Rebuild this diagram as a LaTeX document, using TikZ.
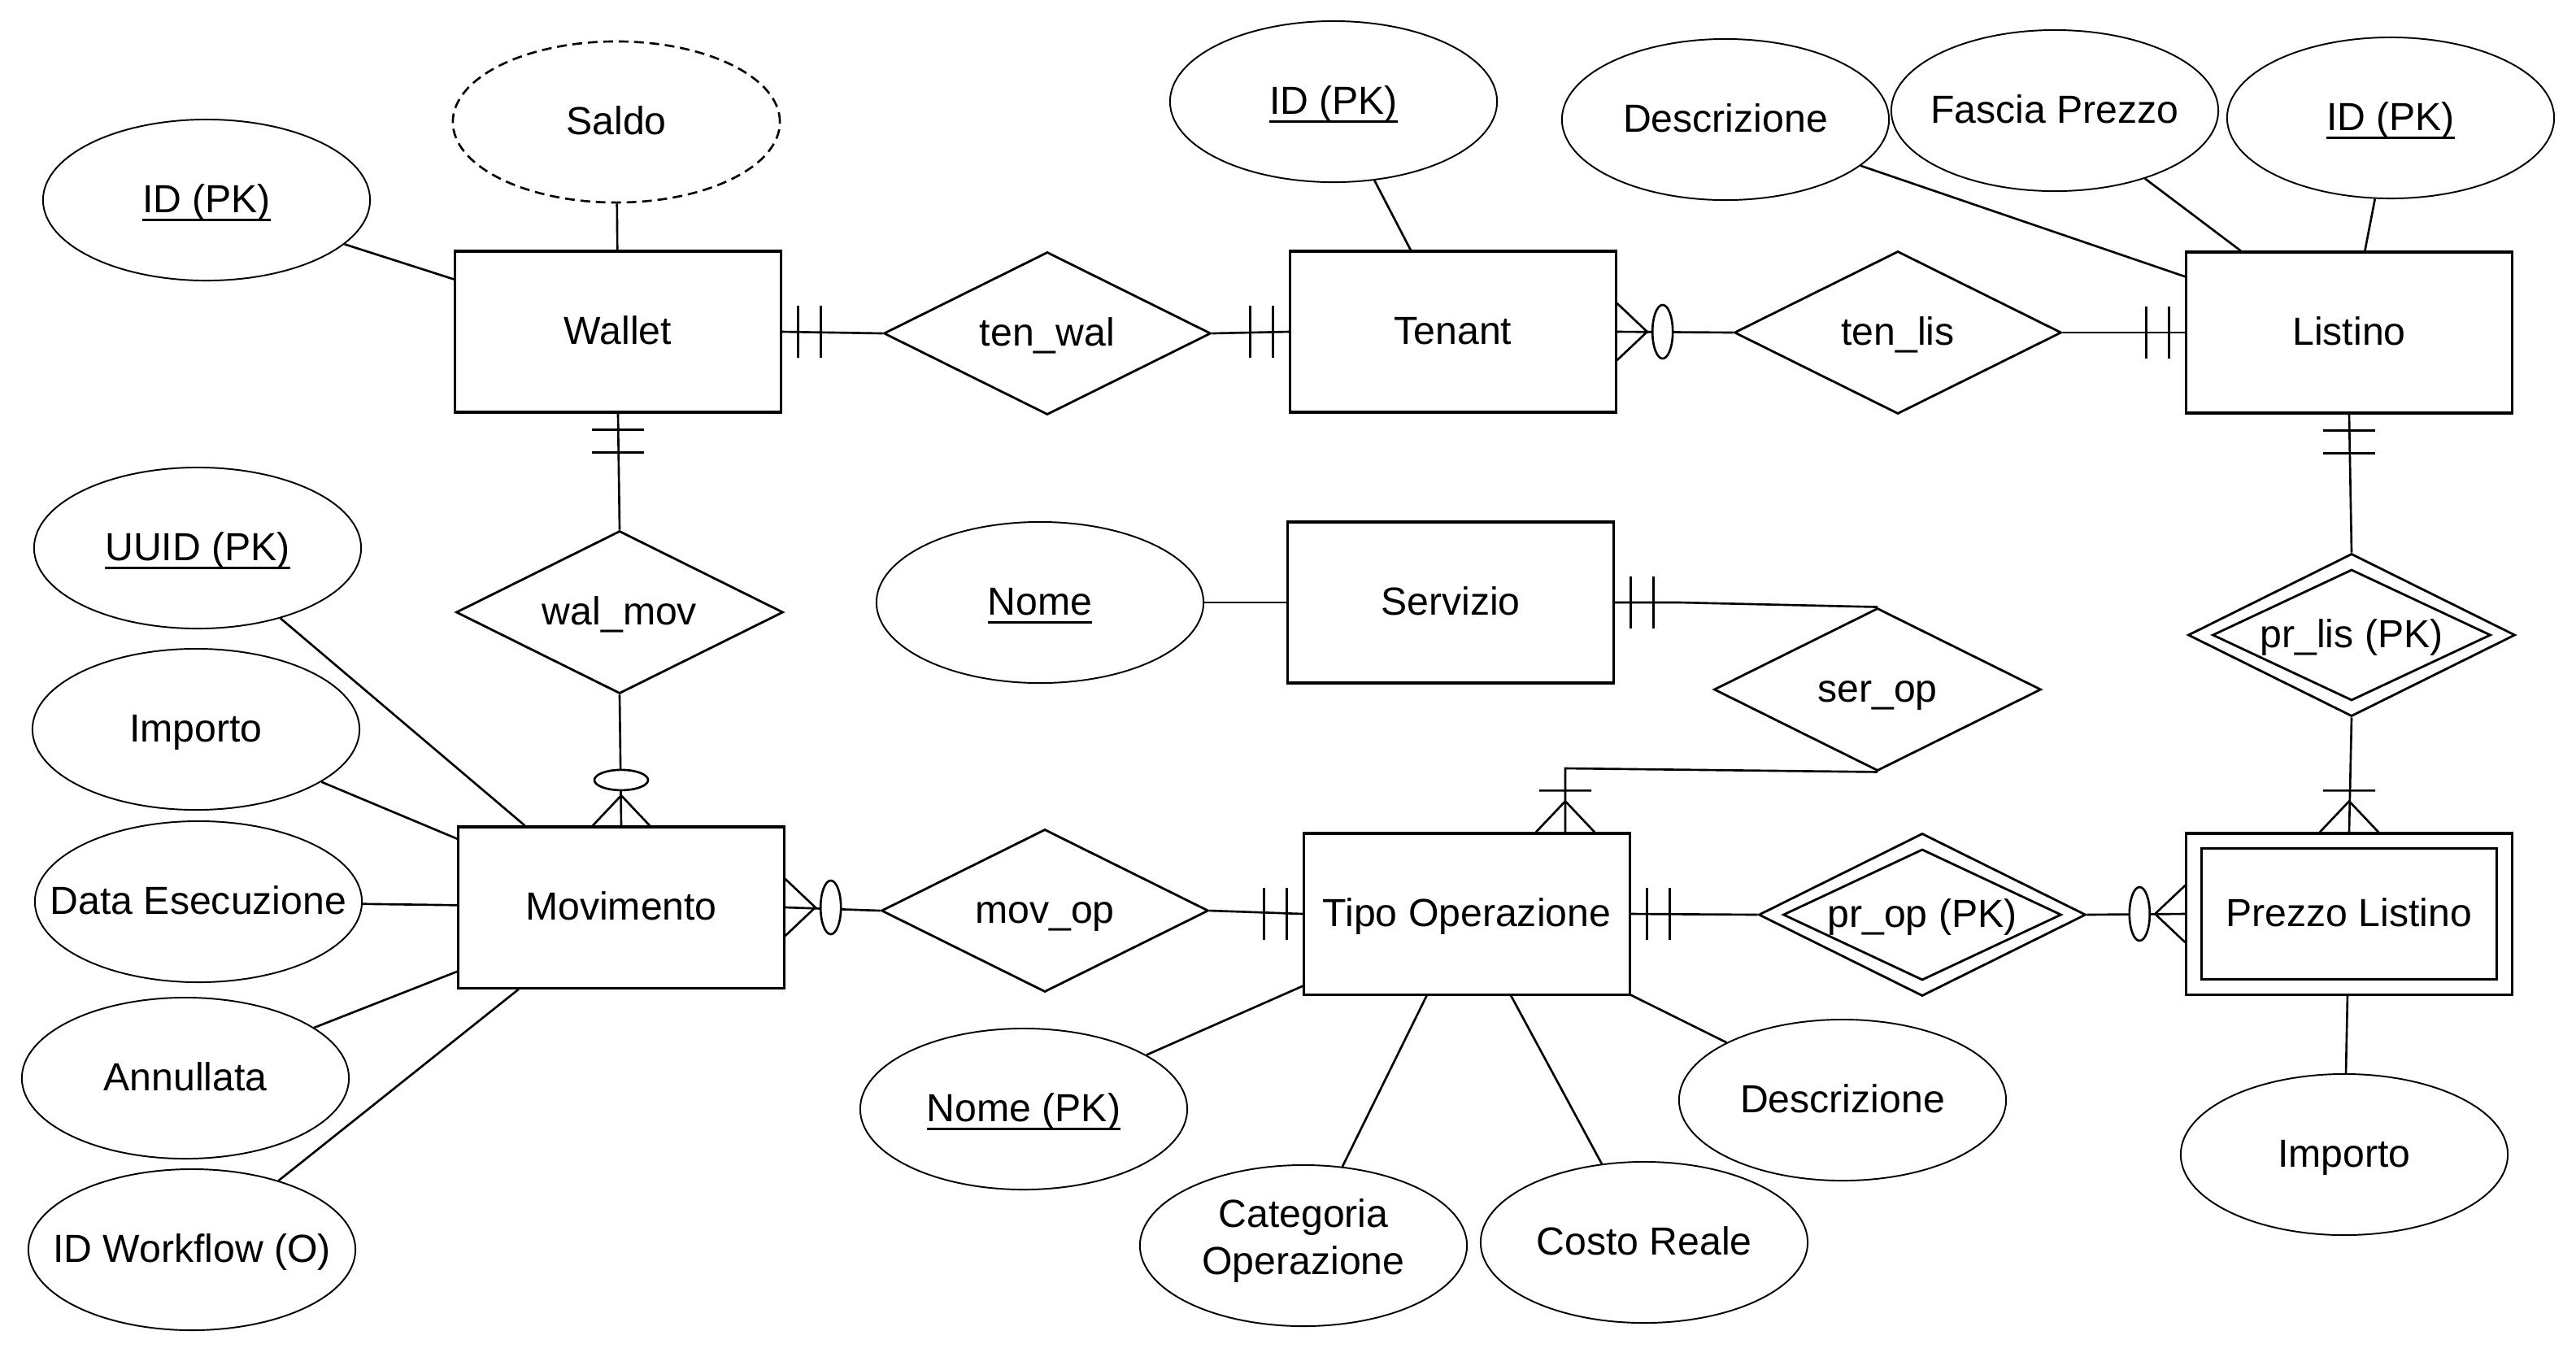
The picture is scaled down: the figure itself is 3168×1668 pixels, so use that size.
\documentclass[tikz,border=0pt]{standalone}
\usepackage{fontspec}
\setmainfont{Liberation Sans}
\usetikzlibrary{shapes.geometric}

% underlined key attribute, rule set at a fixed depth
\newsavebox{\ulbox}
\newcommand{\ulpk}[1]{\sbox{\ulbox}{#1}\rlap{\usebox{\ulbox}}\rule[-2.8pt]{\wd\ulbox}{0.9pt}}
% zero-width text so the ellipse keeps its fixed size
\newcommand{\zw}[1]{\makebox[0pt]{#1}}

% cardinality marks; #1 = point on the entity border, #2 = outward direction
\newcommand{\mkone}[2]{%
  \begin{scope}[shift={(#1)},rotate=#2]
    \draw[mk] (20,-32) -- (20,32) (48,-32) -- (48,32);
  \end{scope}}
\newcommand{\mkzm}[2]{%
  \begin{scope}[shift={(#1)},rotate=#2]
    \draw[mk] (0,35) -- (37,0) -- (0,-35);
    \draw[mk,fill=white] (56,0) ellipse [x radius=12.5,y radius=33];
  \end{scope}}
\newcommand{\mkom}[2]{%
  \begin{scope}[shift={(#1)},rotate=#2]
    \draw[mk] (0,36) -- (38,0) -- (0,-36) (51,-32) -- (51,32);
  \end{scope}}

\tikzset{
  txtfont/.style={font=\fontsize{13.7}{16.4}\selectfont},
  txt/.style={txtfont, text height=11.6pt, text depth=2.6pt},
  ent/.style={draw, line width=0.9pt, fill=white, rectangle, minimum width=4cm,
    minimum height=1.98cm, inner sep=0pt, txt},
  entin/.style={draw, line width=0.9pt, rectangle, minimum width=3.62cm,
    minimum height=1.61cm, inner sep=0pt},
  attr/.style={draw, line width=0.55pt, ellipse, fill=white, minimum width=4.02cm,
    minimum height=1.98cm, inner sep=0pt, txt},
  derived/.style={attr, line width=0.75pt, dash pattern=on 3.4pt off 2pt},
  rel/.style={draw, line width=0.8pt, diamond, aspect=2, fill=white,
    minimum width=4.02cm, minimum height=2cm, inner sep=0pt, txt},
  relin/.style={draw, line width=0.8pt, diamond, aspect=2,
    minimum width=3.42cm, minimum height=1.61cm, inner sep=0pt},
  conn/.style={line width=0.75pt},
  mk/.style={line width=0.75pt},
  attrline/.style={line width=0.75pt},
}

\begin{document}
\begin{tikzpicture}[x=0.01cm, y=0.01cm]
\path[use as bounding box, fill=white] (0,0) rectangle (3168,-1668);

% entities
\node[ent] (wallet)    at (760,-408)   {Wallet};
\node[ent] (tenant)    at (1787,-408)  {Tenant};
\node[ent] (listino)   at (2889,-409)  {Listino};
\node[ent] (servizio)  at (1784,-741)  {Servizio};
\node[ent] (movimento) at (764,-1116)  {Movimento};
\node[ent] (tipoop)    at (1804,-1124) {Tipo Operazione};
\node[ent] (prezzo)    at (2889,-1124) {Prezzo Listino};
\node[entin] (prezzoin) at (prezzo.center) {};

% relationships
\node[rel] (tenwal) at (1288,-410)  {ten\_wal};
\node[rel] (tenlis) at (2334,-409)  {ten\_lis};
\node[rel] (walmov) at (762,-753)   {wal\_mov};
\node[rel] (serop)  at (2309,-848)  {ser\_op};
\node[rel] (movop)  at (1285,-1120) {mov\_op};
\node[rel] (prlis)  at (2892,-781)  {pr\_lis (PK)};
\node[relin] (prlisin) at (prlis.center) {};
\node[rel] (prop)   at (2364,-1125) {pr\_op (PK)};
\node[relin] (propin) at (prop.center) {};

% attributes
\node[attr] (wid)      at (254,-246)   {\ulpk{ID (PK)}};
\node[derived] (saldo) at (758,-150)   {Saldo};
\node[attr] (tid)      at (1640,-125)  {\ulpk{ID (PK)}};
\node[attr] (ldesc)    at (2122,-147)  {\zw{Descrizione}};
\node[attr] (lfascia)  at (2527,-136)  {\zw{Fascia Prezzo}};
\node[attr] (lid)      at (2940,-145)  {\ulpk{ID (PK)}};
\node[attr] (snome)    at (1279,-741)  {\ulpk{Nome}};
\node[attr] (muuid)    at (243,-674)   {\ulpk{UUID (PK)}};
\node[attr] (mimporto) at (241,-897)   {Importo};
\node[attr] (mdata)    at (244,-1109)  {\zw{Data Esecuzione}};
\node[attr] (mannul)   at (228,-1326)  {Annullata};
\node[attr] (mwork)    at (236,-1537)  {\zw{ID Workflow (O)}};
\node[attr] (tnome)    at (1259,-1364) {\ulpk{Nome (PK)}};
\node[attr, label={[txtfont, align=center, yshift=1.7pt]center:Categoria\\Operazione}]
  (tcat) at (1603,-1532) {};
\node[attr] (tcosto)   at (2022,-1528) {\zw{Costo Reale}};
\node[attr] (tdesc)    at (2266,-1353) {\zw{Descrizione}};
\node[attr] (pimporto) at (2883,-1420) {Importo};

% attribute links
\draw[attrline] (wid) -- (wallet);
\draw[attrline] (saldo) -- (wallet);
\draw[attrline] (tid) -- (tenant);
\draw[attrline] (ldesc) -- (listino);
\draw[attrline] (lfascia) -- (listino);
\draw[attrline] (lid) -- (listino);
\draw[attrline] (snome) -- (servizio);
\draw[attrline] (muuid) -- (movimento);
\draw[attrline] (mimporto) -- (movimento);
\draw[attrline] (mdata) -- (movimento);
\draw[attrline] (mannul) -- (movimento);
\draw[attrline] (mwork) -- (movimento);
\draw[attrline] (tnome) -- (tipoop);
\draw[attrline] (tcat) -- (tipoop);
\draw[attrline] (tcosto) -- (tipoop);
\draw[attrline] (tdesc) -- (tipoop);
\draw[attrline] (pimporto) -- (prezzo);

% relationship links
\draw[conn] (wallet.east) -- (tenwal.west);
\draw[conn] (tenwal.east) -- (tenant.west);
\draw[conn] (tenant.east) -- (tenlis.west);
\draw[conn] (tenlis.east) -- (listino.west);
\draw[conn] (wallet.south) -- (walmov.north);
\draw[conn] (walmov.south) -- (movimento.north);
\draw[conn] (movimento.east) -- (movop.west);
\draw[conn] (movop.east) -- (tipoop.west);
\draw[conn] (servizio.east) -- ++(80,0) -- (serop.north);
\coordinate (sturn) at (1925,-945);
\draw[conn] (serop.south) -- (sturn) -- (sturn |- tipoop.north);
\draw[conn] (tipoop.east) -- (prop.west);
\draw[conn] (prop.east) -- (prezzo.west);
\draw[conn] (listino.south) -- (prlis.north);
\draw[conn] (prlis.south) -- (prezzo.north);

% cardinalities
\mkone{wallet.east}{0}
\mkone{tenant.west}{180}
\mkzm{tenant.east}{0}
\mkone{listino.west}{180}
\mkone{wallet.south}{-90}
\mkzm{movimento.north}{90}
\mkzm{movimento.east}{0}
\mkone{tipoop.west}{180}
\mkone{servizio.east}{0}
\mkom{sturn |- tipoop.north}{90}
\mkone{tipoop.east}{0}
\mkzm{prezzo.west}{180}
\mkone{listino.south}{-90}
\mkom{prezzo.north}{90}
\end{tikzpicture}
\end{document}
